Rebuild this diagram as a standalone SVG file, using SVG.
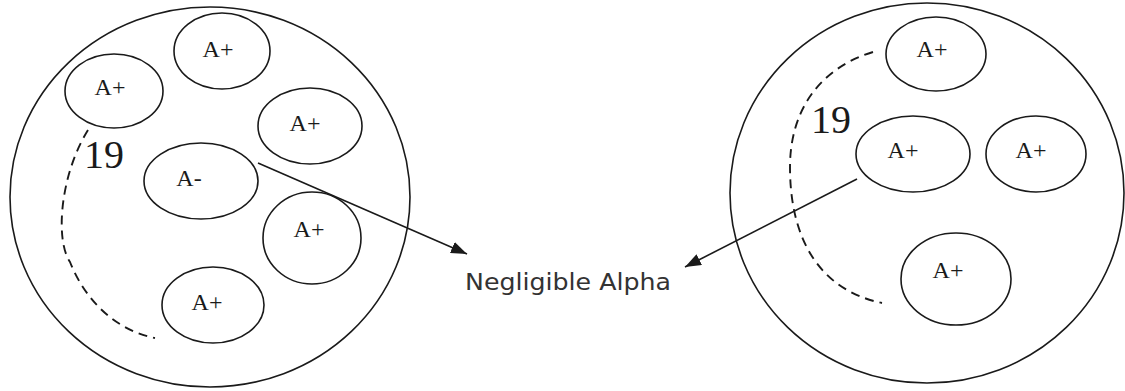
<svg xmlns="http://www.w3.org/2000/svg" width="1125" height="391" viewBox="0 0 1125 391">
<defs>
<style>
.big{fill:none;stroke:#1a1a1a;stroke-width:1.6}
.el{fill:none;stroke:#1a1a1a;stroke-width:1.6}
.lbl{font-family:"Liberation Serif","Times New Roman",serif;font-size:24px;fill:#1a1a1a;text-anchor:middle}
.num{font-family:"Liberation Serif","Times New Roman",serif;font-size:40px;fill:#1a1a1a}
.dash{fill:none;stroke:#1a1a1a;stroke-width:1.9;stroke-dasharray:9 6}
.conn{fill:none;stroke:#1a1a1a;stroke-width:1.6}
.note{font-family:"DejaVu Sans","Liberation Sans",sans-serif;font-size:23px;fill:#333}
</style>
<marker id="arr" viewBox="0 0 16 12" refX="16" refY="6" markerWidth="16" markerHeight="12" markerUnits="userSpaceOnUse" orient="auto">
<path d="M0,0 L16,6 L0,12 Z" fill="#1a1a1a"/>
</marker>
</defs>
<rect width="1125" height="391" fill="#fff"/>
<g id="left-cell">
<ellipse class="big" cx="210" cy="197" rx="200" ry="190"/>
</g>
<g id="left-dash">
<path class="dash" d="M88,130 C60,175 55,240 70,262 C85,300 115,330 155,338"/>
<text class="num" x="84" y="168">19</text>
</g>
<g id="l-top"><ellipse class="el" cx="222" cy="51" rx="48" ry="38"/><text class="lbl" x="218" y="57">A+</text></g>
<g id="l-upleft"><ellipse class="el" cx="114" cy="91" rx="49" ry="37"/><text class="lbl" x="110" y="95">A+</text></g>
<g id="l-right"><ellipse class="el" cx="310" cy="126" rx="52" ry="38"/><text class="lbl" x="305" y="131">A+</text></g>
<g id="l-minus"><ellipse class="el" cx="201" cy="181" rx="57" ry="38"/><text class="lbl" x="189" y="186">A-</text></g>
<g id="l-lowright"><ellipse class="el" cx="312" cy="238" rx="49" ry="46"/><text class="lbl" x="309" y="237">A+</text></g>
<g id="l-bottom"><ellipse class="el" cx="213" cy="305" rx="51" ry="38"/><text class="lbl" x="207" y="310">A+</text></g>
<g id="right-cell">
<ellipse class="big" cx="927" cy="193" rx="197" ry="190"/>
</g>
<g id="right-dash">
<path class="dash" d="M873,52 C820,68 790,110 790,167 C790,240 820,290 882,303"/>
<text class="num" x="811" y="133">19</text>
</g>
<g id="r-top"><ellipse class="el" cx="936" cy="54" rx="50" ry="37"/><text class="lbl" x="932" y="57">A+</text></g>
<g id="r-mid"><ellipse class="el" cx="913" cy="154" rx="57" ry="38"/><text class="lbl" x="903" y="158">A+</text></g>
<g id="r-right"><ellipse class="el" cx="1036" cy="154" rx="50" ry="38"/><text class="lbl" x="1031" y="158">A+</text></g>
<g id="r-bottom"><ellipse class="el" cx="956" cy="279" rx="55" ry="46"/><text class="lbl" x="948" y="278">A+</text></g>
<g id="label">
<text class="note" x="465" y="290" textLength="206" lengthAdjust="spacingAndGlyphs">Negligible Alpha</text>
</g>
<g id="connectors">
<line class="conn" x1="258" y1="163" x2="467" y2="254" marker-end="url(#arr)"/>
<line class="conn" x1="857" y1="179" x2="685" y2="267" marker-end="url(#arr)"/>
</g>
</svg>
